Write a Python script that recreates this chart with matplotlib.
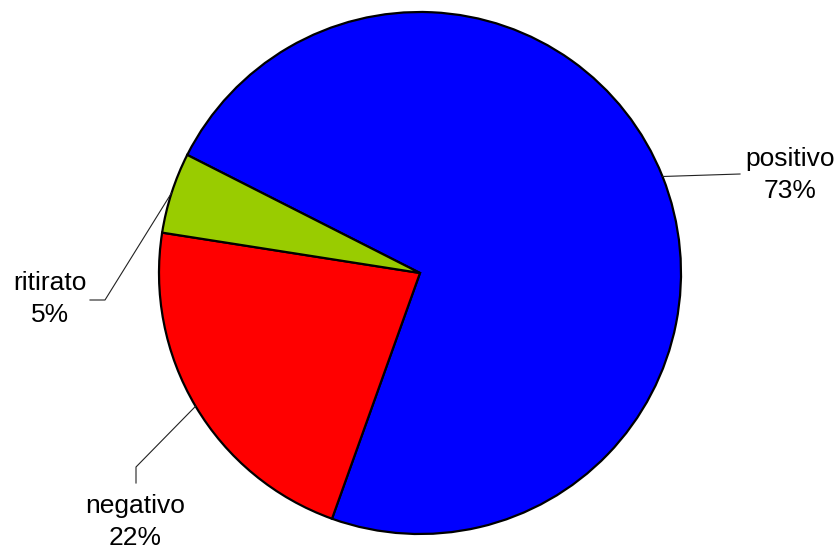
import numpy as np
import matplotlib.pyplot as plt

plt.rcParams['font.family'] = ['Liberation Sans', 'DejaVu Sans']

labels = ['positivo', 'negativo', 'ritirato']
shares = [73, 22, 5]
colors = ['#0000FF', '#FF0000', '#99CC00']


def main():
    fig = plt.figure(figsize=(8.38, 5.46), dpi=100)
    ax = fig.add_axes([0, 0, 1, 1])

    cx, cy, r = 420, 273, 261
    start = 153.1

    ax.pie(shares, colors=colors, startangle=start, counterclock=False,
           center=(cx, cy), radius=r, frame=True,
           wedgeprops=dict(edgecolor='black', linewidth=1.6))
    ax.set_xlim(0, 838)
    ax.set_ylim(0, 546)
    ax.set_aspect('equal')
    ax.axis('off')

    # leader lines start at the middle of each slice
    cum = np.cumsum([0] + shares)
    mids = [start - 3.6 * (cum[i] + shares[i] / 2) for i in range(len(shares))]

    # label text position and elbow points for each leader
    text_pos = [(790, 371), (135, 24), (50, 247)]
    elbows = [[(740, 372)], [(136, 79), (136, 63)], [(105, 246), (90, 246)]]

    for i in range(len(labels)):
        a = np.radians(mids[i])
        px = cx + r * np.cos(a)
        py = cy + r * np.sin(a)
        xs = [px] + [e[0] for e in elbows[i]]
        ys = [py] + [e[1] for e in elbows[i]]
        ax.plot(xs, ys, color='#222222', linewidth=0.8)
        ax.text(text_pos[i][0], text_pos[i][1],
                labels[i] + '\n' + str(shares[i]) + '%',
                ha='center', va='center', fontsize=19, linespacing=1.38)

    plt.savefig('out.png')


if __name__ == "__main__":
    main()
